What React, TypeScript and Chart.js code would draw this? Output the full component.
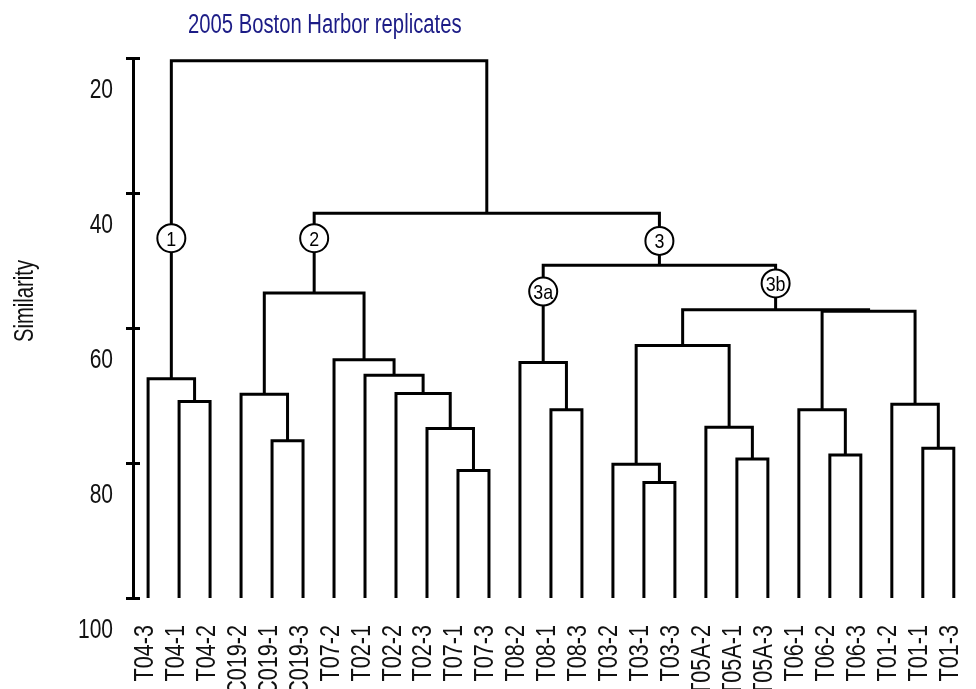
import React, { useEffect, useRef } from 'react';
import { Chart, registerables } from 'chart.js';

Chart.register(...registerables);

// Replicate samples, in dendrogram leaf order
const leaves = [
  'T04-3', 'T04-1', 'T04-2',
  'C019-2', 'C019-1', 'C019-3',
  'T07-2', 'T02-1', 'T02-2', 'T02-3', 'T07-1', 'T07-3',
  'T08-2', 'T08-1', 'T08-3',
  'T03-2', 'T03-1', 'T03-3',
  'T05A-2', 'T05A-1', 'T05A-3',
  'T06-1', 'T06-2', 'T06-3',
  'T01-2', 'T01-1', 'T01-3',
];

// Agglomeration steps: [left child, right child, similarity]; step k is node "m<k>"
const merges: [string, string, number][] = [
  ['T04-1', 'T04-2', 70.9],   // m0
  ['T04-3', 'm0', 67.5],      // m1  (group 1)
  ['C019-1', 'C019-3', 76.7], // m2
  ['C019-2', 'm2', 69.8],     // m3
  ['T07-1', 'T07-3', 81.1],   // m4
  ['T02-3', 'm4', 74.9],      // m5
  ['T02-2', 'm5', 69.7],      // m6
  ['T02-1', 'm6', 67.0],      // m7
  ['T07-2', 'm7', 64.7],      // m8
  ['m3', 'm8', 54.8],         // m9  (group 2)
  ['T08-1', 'T08-3', 72.1],   // m10
  ['T08-2', 'm10', 65.1],     // m11 (group 3a)
  ['T03-1', 'T03-3', 82.9],   // m12
  ['T03-2', 'm12', 80.2],     // m13
  ['T05A-1', 'T05A-3', 79.4], // m14
  ['T05A-2', 'm14', 74.7],    // m15
  ['m13', 'm15', 62.6],       // m16
  ['T06-2', 'T06-3', 78.8],   // m17
  ['T06-1', 'm17', 72.1],     // m18
  ['T01-1', 'T01-3', 77.8],   // m19
  ['T01-2', 'm19', 71.3],     // m20
  ['m18', 'm20', 57.5],       // m21
  ['m16', 'm21', 57.3],       // m22 (group 3b)
  ['m11', 'm22', 50.7],       // m23 (group 3)
  ['m9', 'm23', 43.0],        // m24
  ['m1', 'm24', 20.4],        // m25 (root)
];

// Group markers placed on the stem above each group's node
const groupTags = ['1', '2', '3', '3a', '3b'];
const groupNodes = ['m1', 'm9', 'm23', 'm11', 'm22'];
const groupTagSimilarity = [46.7, 46.7, 47.1, 54.6, 53.4];

const similarityTicks = [20, 40, 60, 80, 100];

const chartTitle = '2005 Boston Harbor replicates';
const yTitle = 'Similarity';

const FAMILY = "'Liberation Sans', Arial, Helvetica, sans-serif";

type Node = { x: number; h: number };

function layoutTree() {
  const nodes: Record<string, Node> = {};
  leaves.forEach((name, i) => {
    nodes[name] = { x: i, h: 100 };
  });
  merges.forEach(([a, b, h], k) => {
    nodes['m' + k] = { x: (nodes[a].x + nodes[b].x) / 2, h };
  });
  return nodes;
}

// Condensed sans text: Liberation Sans squeezed horizontally along the text direction
function narrowText(
  ctx: CanvasRenderingContext2D,
  text: string,
  x: number,
  y: number,
  size: number,
  squeeze: number,
  align: CanvasTextAlign,
  color: string,
  rotation = 0,
) {
  ctx.save();
  ctx.translate(x, y);
  if (rotation) ctx.rotate(rotation);
  ctx.scale(squeeze, 1);
  ctx.font = `${size}px ${FAMILY}`;
  ctx.textAlign = align;
  ctx.textBaseline = 'alphabetic';
  ctx.fillStyle = color;
  ctx.fillText(text, 0, 0);
  ctx.restore();
}

export default function App() {
  const canvasRef = useRef<HTMLCanvasElement | null>(null);

  useEffect(() => {
    document.body.style.margin = '0';
    const canvas = canvasRef.current;
    if (!canvas) return;

    const nodes = layoutTree();

    const linkDatasets = merges.map(([a, b, h]) => {
      const na = nodes[a];
      const nb = nodes[b];
      return {
        data: [
          { x: na.x, y: na.h },
          { x: na.x, y: h },
          { x: nb.x, y: h },
          { x: nb.x, y: nb.h },
        ],
        showLine: true,
        borderColor: '#000',
        borderWidth: 3,
        borderJoinStyle: 'miter' as const,
        pointRadius: 0,
        pointHoverRadius: 0,
        tension: 0,
        fill: false,
        clip: false as const,
        order: 1,
      };
    });

    const tagDataset = {
      data: groupNodes.map((n, i) => ({ x: nodes[n].x, y: groupTagSimilarity[i] })),
      showLine: false,
      pointRadius: 14,
      pointHoverRadius: 14,
      pointBorderWidth: 2,
      pointBackgroundColor: '#fff',
      pointBorderColor: '#000',
      borderColor: '#000',
      clip: false as const,
      order: -1,
    };

    const decorations = {
      id: 'decorations',
      afterDatasetsDraw(chart: any) {
        const { ctx, scales } = chart;
        const xs = scales.x;
        const ys = scales.y;
        // group labels inside the circles
        groupNodes.forEach((n, i) => {
          const px = xs.getPixelForValue(nodes[n].x);
          const py = ys.getPixelForValue(groupTagSimilarity[i]);
          narrowText(ctx, groupTags[i], px, py + 7.5, 21, 0.85, 'center', '#000');
        });
      },
      afterDraw(chart: any) {
        const { ctx, scales } = chart;
        const xs = scales.x;
        const ys = scales.y;
        const axisX = chart.chartArea.left;
        ctx.save();
        // cross ticks on the similarity axis
        ctx.strokeStyle = '#000';
        ctx.lineWidth = 3;
        ys.ticks.forEach((t: any) => {
          const py = Math.round(ys.getPixelForValue(t.value)) + 0.5;
          ctx.beginPath();
          ctx.moveTo(axisX - 7, py);
          ctx.lineTo(axisX + 7, py);
          ctx.stroke();
        });
        ctx.restore();

        // similarity tick labels, set just below their tick marks
        ys.ticks.forEach((t: any) => {
          const py = ys.getPixelForValue(t.value);
          narrowText(ctx, String(t.value), axisX - 20, py + 39.5, 28, 0.75, 'right', '#111');
        });

        // sample labels, vertical, reading upward
        const labelTop = chart.chartArea.bottom + 27;
        xs.ticks.forEach((t: any) => {
          const px = xs.getPixelForValue(t.value);
          const name = leaves[Math.round(t.value)] ?? '';
          narrowText(ctx, name, px + 4.5, labelTop, 27, 0.8, 'right', '#111', -Math.PI / 2);
        });

        // chart title
        narrowText(ctx, chartTitle, 188, 33, 27, 0.75, 'left', '#1c1c86');

        // axis title
        narrowText(ctx, yTitle, 33, 301, 27, 0.75, 'center', '#111', -Math.PI / 2);
      },
    };

    const chart = new Chart(canvas, {
      type: 'scatter',
      data: { datasets: [tagDataset, ...linkDatasets] as any },
      options: {
        responsive: false,
        animation: false,
        events: [],
        layout: { padding: { left: 0, right: 4, top: 58, bottom: 0 } },
        plugins: {
          legend: { display: false },
          tooltip: { enabled: false },
          title: { display: false },
        },
        scales: {
          x: {
            type: 'linear',
            min: -0.487,
            max: 26.2,
            grid: { display: false },
            border: { display: false },
            afterBuildTicks: (scale: any) => {
              scale.ticks = leaves.map((_, i) => ({ value: i }));
            },
            afterFit: (scale: any) => {
              scale.height = 91;
              scale.paddingLeft = 0;
              scale.paddingRight = 0;
            },
            ticks: { display: false },
          },
          y: {
            type: 'linear',
            reverse: true,
            min: 20,
            max: 100,
            grid: { display: true, drawOnChartArea: false, drawTicks: false },
            border: { display: true, color: '#000', width: 3 },
            afterBuildTicks: (scale: any) => {
              scale.ticks = similarityTicks.map((v) => ({ value: v }));
            },
            afterFit: (scale: any) => {
              scale.width = 133;
              scale.paddingTop = 0;
              scale.paddingBottom = 0;
            },
            ticks: { display: false },
          },
        },
      },
      plugins: [decorations],
    });

    return () => chart.destroy();
  }, []);

  return (
    <div style={{ position: 'relative', width: 976, height: 689 }}>
      <canvas ref={canvasRef} width={976} height={689} style={{ display: 'block' }} />
    </div>
  );
}
